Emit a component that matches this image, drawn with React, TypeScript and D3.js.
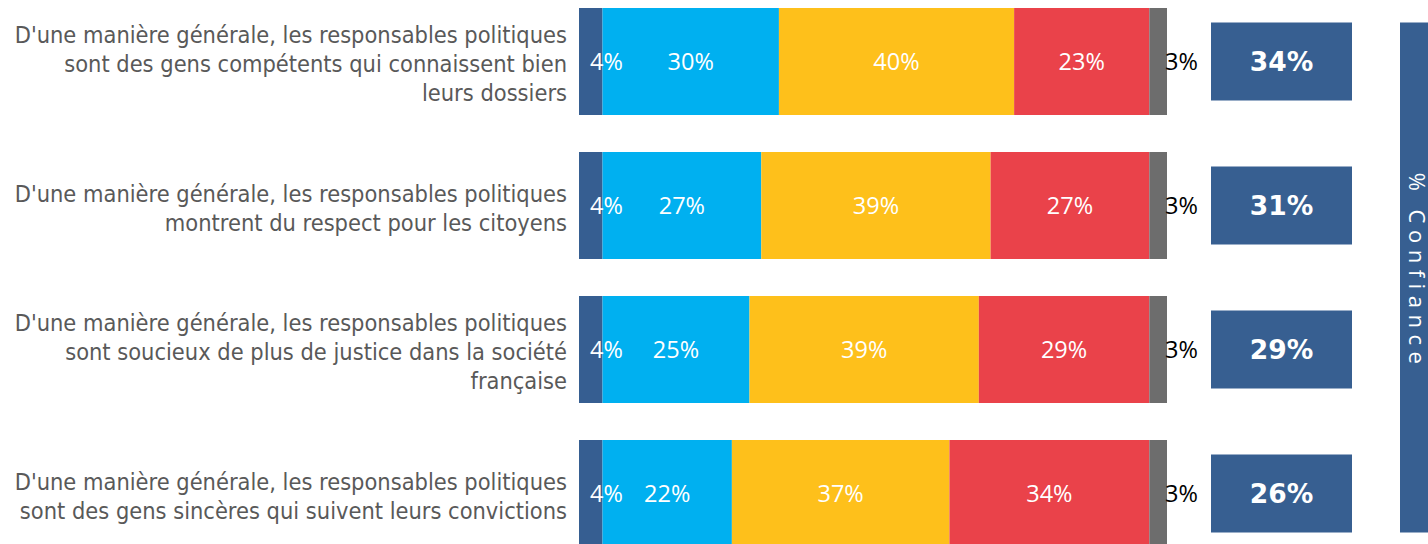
import React from "react";
import * as d3 from "d3";

const labelLines: string[][] = [
  ["D'une manière générale, les responsables politiques", "sont des gens compétents qui connaissent bien", "leurs dossiers"],
  ["D'une manière générale, les responsables politiques", "montrent du respect pour les citoyens"],
  ["D'une manière générale, les responsables politiques", "sont soucieux de plus de justice dans la société", "française"],
  ["D'une manière générale, les responsables politiques", "sont des gens sincères qui suivent leurs convictions"],
];
const categories = ["competents", "respect", "justice", "sinceres"];
const tresConfiance = [4, 4, 4, 4];
const plutotConfiance = [30, 27, 25, 22];
const plutotPasConfiance = [40, 39, 39, 37];
const pasDuToutConfiance = [23, 27, 29, 34];
const nsp = [3, 3, 3, 3];
const totalConfiance = [34, 31, 29, 26];
const seriesColors = ["#365E91", "#00B0F0", "#FEC01B", "#EA424A", "#6D6D6D"];

const W = 1428;
const H = 544;

export default function App() {
  const series = [tresConfiance, plutotConfiance, plutotPasConfiance, pasDuToutConfiance, nsp];
  const x = d3.scaleLinear().domain([0, 100]).range([579, 1167]);
  const pInner = 37 / 144;
  const y = d3.scaleBand<string>().domain(categories).range([8, 547]).paddingInner(pInner).paddingOuter(0);
  const bw = y.bandwidth();

  const stackData = categories.map((c, i) => {
    const o: any = { cat: c };
    series.forEach((s, k) => (o["s" + k] = s[i]));
    return o;
  });
  const stacked = d3.stack<any>().keys(series.map((_, k) => "s" + k))(stackData);

  const boxX0 = 1211, boxX1 = 1352, boxH = 78;
  const firstC = (y(categories[0]) as number) + bw / 2;
  const lastC = (y(categories[categories.length - 1]) as number) + bw / 2;

  return (
    <svg width={W} height={H} style={{ position: "absolute", left: 0, top: 0, display: "block" }}>
      <rect width={W} height={H} fill="#ffffff" />
      {stacked.map((layer, k) => (
        <g key={k}>
          {layer.map((d, i) => {
            const y0 = y(categories[i]) as number;
            return (
              <rect key={i} x={x(d[0])} y={y0} width={x(d[1]) - x(d[0])} height={bw} fill={seriesColors[k]} />
            );
          })}
        </g>
      ))}
      {stacked.map((layer, k) => (
        <g key={"l" + k} fontFamily="'Open Sans', sans-serif" fontSize={23.5}>
          {layer.map((d, i) => {
            const cy = (y(categories[i]) as number) + bw / 2;
            let tx: number;
            let anchor = "middle";
            let fill = "#ffffff";
            if (k === 0) {
              tx = x(d[0]) + 11;
              anchor = "start";
            } else if (k === series.length - 1) {
              tx = x(d[1]) - 2;
              anchor = "start";
              fill = "#000000";
            } else {
              tx = (x(d[0]) + x(d[1])) / 2;
            }
            return (
              <text key={i} x={tx} y={cy} dy="0.35em" textAnchor={anchor} fill={fill}>
                {series[k][i] + "%"}
              </text>
            );
          })}
        </g>
      ))}
      {categories.map((c, i) => {
        const cy = (y(c) as number) + bw / 2;
        const lines = labelLines[i];
        const lh = 28.7;
        return (
          <text key={"t" + i} fontFamily="'DejaVu Sans Condensed', 'DejaVu Sans', sans-serif" fontSize={23.4} fill="#595959" textAnchor="end">
            {lines.map((ln, j) => (
              <tspan key={j} x={567} y={cy + (j - (lines.length - 1) / 2) * lh + 2.5} dy="0.35em">
                {ln}
              </tspan>
            ))}
          </text>
        );
      })}
      {categories.map((c, i) => {
        const cy = (y(c) as number) + bw / 2;
        return (
          <g key={"b" + i}>
            <rect x={boxX0} y={cy - boxH / 2} width={boxX1 - boxX0} height={boxH} fill="#375F91" />
            <text x={(boxX0 + boxX1) / 2} y={cy} dy="0.36em" textAnchor="middle" fill="#ffffff" fontFamily="'DejaVu Sans', sans-serif" fontWeight="bold" fontSize={26.5}>
              {totalConfiance[i] + "%"}
            </text>
          </g>
        );
      })}
      <rect x={1400} y={firstC - boxH / 2} width={60} height={lastC - firstC + boxH} fill="#375F91" />
      <text transform={`translate(1417, ${(firstC + lastC) / 2 - 6}) rotate(90)`} textAnchor="middle" dy="0.35em" fill="#ffffff" fontFamily="'Open Sans', sans-serif" fontSize={22} letterSpacing={6.5}>
        % Confiance
      </text>
    </svg>
  );
}
